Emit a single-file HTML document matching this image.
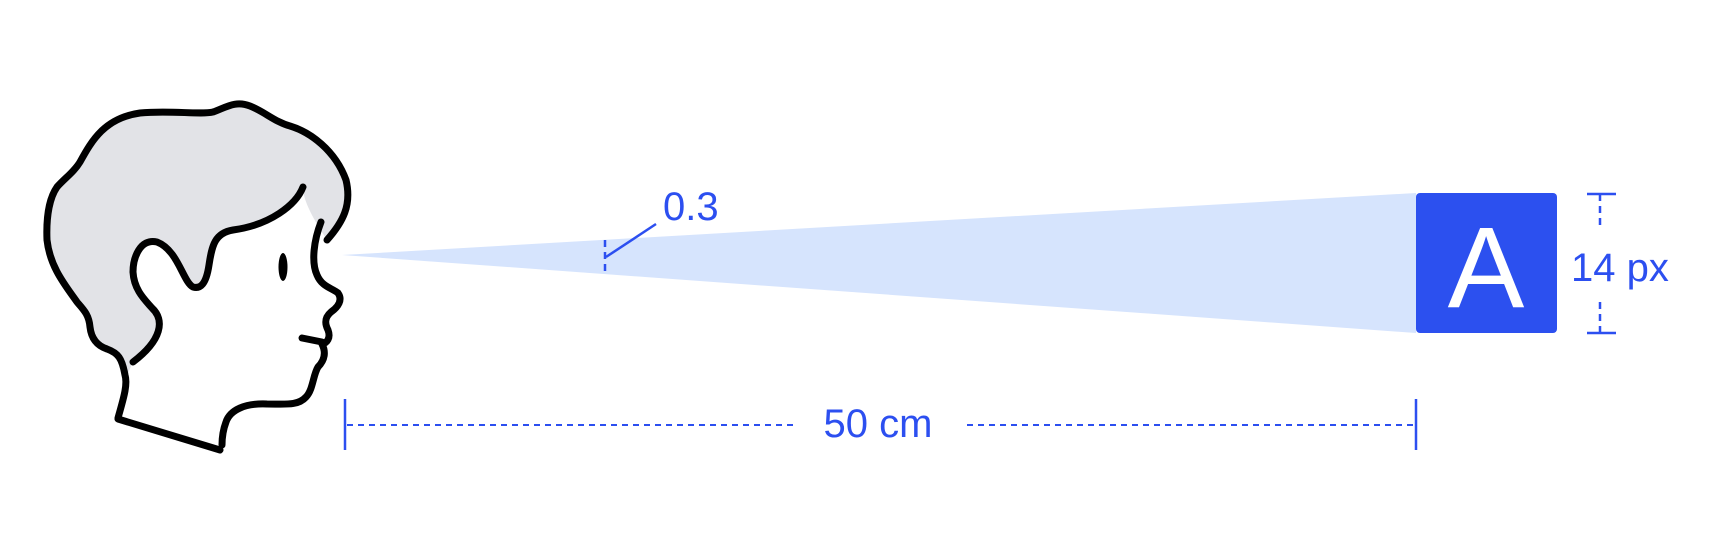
<!DOCTYPE html>
<html><head><meta charset="utf-8"><style>
html,body{margin:0;padding:0;background:#fff;}
svg{display:block;}
text{font-family:"Liberation Sans",sans-serif;}
</style></head><body>
<svg width="1728" height="536" viewBox="0 0 1728 536">
  <polygon points="342,255 1416,193 1416,333" fill="#d6e4fd"/>
  <g fill="none" stroke="#000" stroke-width="7" stroke-linecap="round" stroke-linejoin="round">
    <path stroke="none" fill="#e2e3e7" d="M125,380 C127,365 122,355 110,350 C97,346 91,338 90,327 C88,315 83,310 77,302 C65,285 50,267 47,240 C46,215 50,195 57,187 C66,178 74,172 80,162 C90,140 105,118 140,113 C170,110 200,115 213,112 C225,108 235,100 250,106 C265,112 275,122 290,126 C310,132 335,150 345,175 C352,200 345,220 327,240 L318,226 C312,215 303,200 303,187 C296,205 270,225 233,230 C215,233 212,245 209,265 C206,285 200,289 193,287 C183,282 178,250 157,242 C140,238 133,258 133,272 C134,290 145,300 152,308 C165,320 162,340 133,362 Z"/>
    <path d="M118,418 C123,400 128,385 125,375 C122,358 118,353 107,349 C95,345 91,336 90,327 C89,315 84,310 77,302 C65,285 50,267 47,240 C46,215 50,197 57,187 C65,178 74,172 80,162 C92,140 105,118 140,113 C170,110 200,115 213,112 C225,108 235,100 250,106 C265,112 275,122 290,126 C310,132 335,150 346,180 C352,205 343,222 327,240"/>
    <path d="M303,187 C296,205 270,225 233,230 C215,233 212,245 209,265 C206,285 200,289 193,287 C183,282 178,250 157,242 C140,238 133,258 133,272 C134,290 145,300 152,308 C165,320 162,340 133,362"/>
    <path d="M321,222 C314,240 311,262 317,275 C322,287 332,288 338,293 C343,300 338,307 331,312 C324,318 325,324 328,330 C331,338 327,343 322,344 C326,352 325,360 318,367 C313,375 313,390 306,397 C298,406 285,404 267,404 C245,403 230,410 226,422 C223,430 222,437 222,445"/>
    <path d="M302,338 L322,342"/>
    <path d="M118,419 L220,450"/>
    <ellipse cx="283" cy="267" rx="4.5" ry="14" fill="#000" stroke="none"/>
  </g>
  <g stroke="#2c4ff0" stroke-width="2.5" fill="none">
    <line x1="605" y1="240" x2="605" y2="273" stroke-dasharray="7,5"/>
    <line x1="606" y1="257" x2="656" y2="224"/>
  </g>
  <text x="663" y="220" font-size="40" fill="#2c4ff0">0.3</text>
  <rect x="1416" y="193" width="141" height="140" rx="4" fill="#2c50ef"/>
  <text x="1486" y="307" font-size="115" fill="#fff" text-anchor="middle">A</text>
  <g stroke="#2c4ff0" stroke-width="2.5" fill="none">
    <line x1="1587" y1="194" x2="1616" y2="194"/>
    <line x1="1587" y1="333" x2="1616" y2="333"/>
    <line x1="1600" y1="194" x2="1600" y2="230" stroke-dasharray="7,5"/>
    <line x1="1600" y1="302" x2="1600" y2="333" stroke-dasharray="7,5"/>
  </g>
  <text x="1571" y="281" font-size="40" fill="#2c4ff0">14 px</text>
  <g stroke="#2c4ff0" stroke-width="2" fill="none">
    <line x1="345" y1="399" x2="345" y2="450" stroke-width="2.5"/>
    <line x1="1416" y1="399" x2="1416" y2="450" stroke-width="2.5"/>
    <line x1="347" y1="425" x2="793" y2="425" stroke-dasharray="6,5"/>
    <line x1="967" y1="425" x2="1414" y2="425" stroke-dasharray="6,5"/>
  </g>
  <text x="878" y="437" font-size="40" fill="#2c4ff0" text-anchor="middle">50 cm</text>
</svg>
</body></html>
